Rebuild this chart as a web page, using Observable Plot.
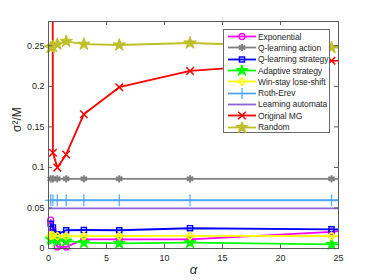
<!DOCTYPE html>
<html><head><meta charset="utf-8">
<script src="https://cdn.jsdelivr.net/npm/d3@7"></script>
<script src="https://cdn.jsdelivr.net/npm/@observablehq/plot@0.6"></script>
<style>
body{margin:0;background:#fff;font-family:"Liberation Sans",Arial,sans-serif;}
#wrap{position:relative;width:374px;height:280px;}
#legend{position:absolute;left:223px;top:29px;width:107px;height:104px;background:#fff;border:1px solid #6a6a6a;box-sizing:border-box;padding-top:1px;}
.row{display:flex;align-items:center;height:11.3px;font-size:8.5px;color:#262626;white-space:nowrap;letter-spacing:-0.1px;}
.row svg{display:block;flex:none;}
</style></head><body><div id="wrap"></div>
<script>
// ---- data ----
const alpha = [0.19, 0.38, 0.76, 1.525, 3.05, 6.1, 12.2, 24.4, 48.8];
const laAlpha = [0, 48.8];
const seriesNames = ["Exponential","Q-learning action","Q-learning strategy","Adaptive strategy","Win-stay lose-shift","Roth-Erev","Learning automata","Original MG","Random"];
const exponential      = [0.035, 0.023, 0.002, 0.002, 0.0113, 0.0113, 0.0113, 0.0204, 0.065];
const qLearningAction  = [0.086, 0.086, 0.086, 0.086, 0.086, 0.086, 0.086, 0.086, 0.086];
const qLearningStrategy= [0.0305, 0.026, 0.0175, 0.0225, 0.0228, 0.0225, 0.025, 0.0237, 0.0237];
const adaptiveStrategy = [0.0115, 0.011, 0.0093, 0.0093, 0.0072, 0.0064, 0.0072, 0.0052, 0.0052];
const winStayLoseShift = [0.0158, 0.016, 0.0152, 0.0152, 0.0152, 0.0154, 0.0155, 0.0154, 0.0154];
const rothErev         = [0.0595, 0.0595, 0.0595, 0.0595, 0.0595, 0.0595, 0.0595, 0.0595, 0.0595];
const learningAutomata = [0.0495, 0.0495];
const originalMG       = [2.0, 0.118, 0.0998, 0.116, 0.1657, 0.199, 0.219, 0.2315, 0.245];
const random           = [0.2478, 0.249, 0.252, 0.2555, 0.252, 0.251, 0.2535, 0.2479, 0.2479];
const xTicks = [0, 5, 10, 15, 20, 25];
const yTicks = [0, 0.05, 0.1, 0.15, 0.2, 0.25];
const yTickLabels = ["0","0.05","0.1","0.15","0.2","0.25"];
const xLabel = "α";
const yLabel = "σ²/M";

// ---- styles ----
const styles = [
  {color:"#ff00ff", symbol:"circle",   r:3,   fill:"none", sw:1.3},
  {color:"#808080", symbol:"asterisk", r:3.4, fill:"none", sw:2},
  {color:"#0000ff", symbol:"square",   r:2.9, fill:"none", sw:1.4},
  {color:"#00ff00", symbol:"star",     r:3.7, fill:"#00ff00", sw:1},
  {color:"#ffff00", symbol:"diamond2", r:3.4, fill:"none", sw:1.5},
  {color:"#4fa6f5", symbol:"plus",     r:4,   fill:"none", sw:1.2},
  {color:"#8e63d8", symbol:null},
  {color:"#ff0000", symbol:"times",    r:3.5, fill:"none", sw:1.5},
  {color:"#bfbf2a", symbol:"star",     r:3.9, fill:"#bfbf2a", sw:1}
];
const valueArrays = [exponential,qLearningAction,qLearningStrategy,adaptiveStrategy,winStayLoseShift,rothErev,learningAutomata,originalMG,random];
const series = seriesNames.map((name,i)=>({
  name, style: styles[i],
  rows: valueArrays[i].map((v,j)=>({x:(i===6?laAlpha:alpha)[j], y:v}))
}));

const W=374, H=280, mt=21, mb=32, ml=48, mr=36;
const ph = H-mt-mb, pw = W-ml-mr;
const axisColor = "#5a5a5a";

const marks = [];
for (const s of series) {
  marks.push(Plot.line(s.rows, {x:"x", y:"y", stroke:s.style.color, strokeWidth:1.8, clip:true}));
  if (s.style.symbol) {
    marks.push(Plot.dot(s.rows, {x:"x", y:"y", symbol:()=>s.style.symbol, r:s.style.r,
      stroke:s.style.color, fill:s.style.fill, strokeWidth:s.style.sw,
      filter:d=>d.x<=25 && d.y<=0.28}));
  }
}
marks.push(
  Plot.frame({stroke:axisColor, strokeWidth:1}),
  Plot.ruleX(xTicks, {x:d=>d, insetTop:ph-4, stroke:axisColor}),
  Plot.ruleX(xTicks, {x:d=>d, insetBottom:ph-4, stroke:axisColor}),
  Plot.ruleY(yTicks, {y:d=>d, insetRight:pw-4, stroke:axisColor}),
  Plot.ruleY(yTicks, {y:d=>d, insetLeft:pw-4, stroke:axisColor}),
  Plot.axisX(xTicks, {tickSize:0, tickPadding:6, label:null, fill:"#262626"}),
  Plot.axisY(yTicks, {tickSize:0, tickPadding:4, label:null, fill:"#262626",
    tickFormat:d=>yTickLabels[yTicks.indexOf(d)]}),
  Plot.text([xLabel], {text:d=>d, frameAnchor:"bottom", dy:25, fontSize:13, fill:"#262626", fontStyle:"italic"}),
  Plot.text([yLabel], {text:d=>d, frameAnchor:"left", dx:-31, dy:-3, rotate:-90, fontSize:12, fill:"#262626"})
);

const chart = Plot.plot({
  width:W, height:H, marginTop:mt, marginBottom:mb, marginLeft:ml, marginRight:mr,
  x:{domain:[0,25]}, y:{domain:[0,0.28]},
  style:{fontFamily:"'Liberation Sans', Arial, sans-serif", fontSize:"9px", background:"#fff", overflow:"visible"},
  marks
});
const wrap = document.getElementById("wrap");
wrap.appendChild(chart);

// ---- legend (overlay inside the axes) ----
const symMap = {circle:d3.symbolCircle, asterisk:d3.symbolAsterisk, square:d3.symbolSquare,
  star:d3.symbolStar, diamond2:d3.symbolDiamond2, plus:d3.symbolPlus, times:d3.symbolTimes};
const legend = document.createElement("div");
legend.id = "legend";
for (const s of series) {
  const row = document.createElement("div");
  row.className = "row";
  const svg = d3.create("svg").attr("width",34).attr("height",11);
  svg.append("line").attr("x1",4).attr("x2",32).attr("y1",5.5).attr("y2",5.5)
    .attr("stroke",s.style.color).attr("stroke-width",1.8);
  if (s.style.symbol) {
    svg.append("path").attr("transform","translate(18,5.5)")
      .attr("d", d3.symbol().type(symMap[s.style.symbol]).size(Math.PI*s.style.r*s.style.r)())
      .attr("fill", s.style.fill).attr("stroke", s.style.color).attr("stroke-width", s.style.sw);
  }
  row.appendChild(svg.node());
  const t = document.createElement("span");
  t.textContent = s.name;
  row.appendChild(t);
  legend.appendChild(row);
}
wrap.appendChild(legend);
</script>
</body></html>
